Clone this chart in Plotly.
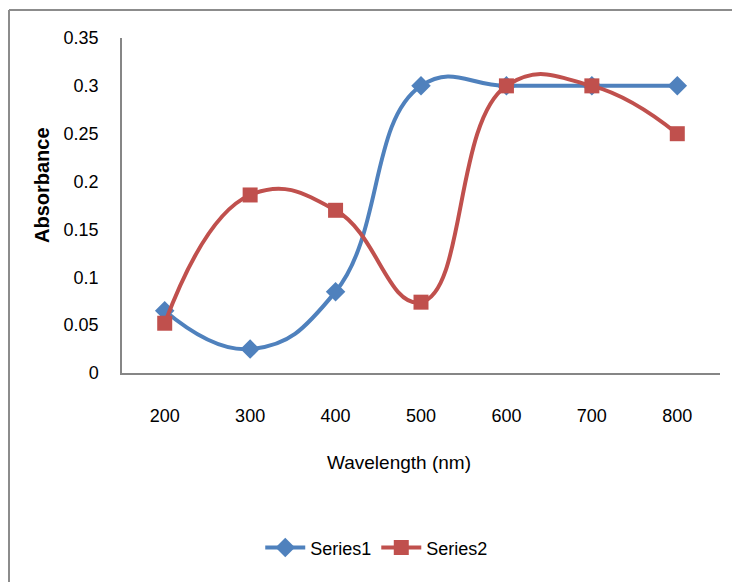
import plotly.graph_objects as go

wavelengths = [200, 300, 400, 500, 600, 700, 800]
series1 = [0.065, 0.025, 0.085, 0.30, 0.30, 0.30, 0.30]
series2 = [0.052, 0.186, 0.170, 0.074, 0.30, 0.30, 0.25]
y_ticks = [0, 0.05, 0.1, 0.15, 0.2, 0.25, 0.3, 0.35]
y_tick_text = ["0", "0.05", "0.1", "0.15", "0.2", "0.25", "0.3", "0.35"]
x_tick_text = [str(w) for w in wavelengths]

FONT = "Liberation Sans, Arial, sans-serif"
BLUE = "#4F81BD"
RED = "#C0504D"

fig = go.Figure()
fig.add_trace(go.Scatter(
    x=wavelengths, y=series1, name="Series1", mode="lines+markers",
    line=dict(color=BLUE, width=4, shape="spline", smoothing=1.3),
    marker=dict(symbol="diamond", size=15, color=BLUE),
))
fig.add_trace(go.Scatter(
    x=wavelengths, y=series2, name="Series2", mode="lines+markers",
    line=dict(color=RED, width=4, shape="spline", smoothing=1.3),
    marker=dict(symbol="square", size=15, color=RED),
))

fig.update_layout(
    width=732, height=582,
    margin=dict(l=122, r=12, t=38, b=209),
    paper_bgcolor="white", plot_bgcolor="white",
    font=dict(family=FONT, size=18, color="#000000"),
    showlegend=True,
    legend=dict(orientation="h", x=0.426, xanchor="center", y=-0.522, yanchor="middle",
                font=dict(family=FONT, size=18), itemwidth=40, tracegroupgap=0),
    xaxis=dict(range=[150, 850], tickvals=wavelengths, ticktext=x_tick_text,
               showgrid=False, zeroline=False, showline=True, linecolor="#868686",
               linewidth=1.5, ticks="", ticklabelstandoff=26,
               tickfont=dict(family=FONT, size=18)),
    yaxis=dict(range=[0, 0.35], tickvals=y_ticks, ticktext=y_tick_text,
               showgrid=False, zeroline=False, showline=True, linecolor="#868686",
               linewidth=1.5, ticks="", ticklabelstandoff=18,
               tickfont=dict(family=FONT, size=18)),
    annotations=[
        dict(text="Wavelength (nm)", xref="paper", yref="paper",
             x=(399 - 122) / 598, y=(373 - 463) / 335, xanchor="center", yanchor="middle",
             showarrow=False, font=dict(family=FONT, size=19)),
        dict(text="<b>Absorbance</b>", xref="paper", yref="paper",
             x=(42 - 122) / 598, y=(373 - 185) / 335, xanchor="center", yanchor="middle",
             textangle=-90, showarrow=False, font=dict(family=FONT, size=20)),
    ],
    shapes=[
        dict(type="line", xref="paper", yref="paper",
             x0=(9 - 122) / 598, x1=(740 - 122) / 598,
             y0=(373 - 10) / 335, y1=(373 - 10) / 335,
             line=dict(color="#8c8c8c", width=2)),
        dict(type="line", xref="paper", yref="paper",
             x0=(9 - 122) / 598, x1=(9 - 122) / 598,
             y0=(373 - 10) / 335, y1=(373 - 590) / 335,
             line=dict(color="#8c8c8c", width=2)),
    ],
)

fig.write_html("out.html")
